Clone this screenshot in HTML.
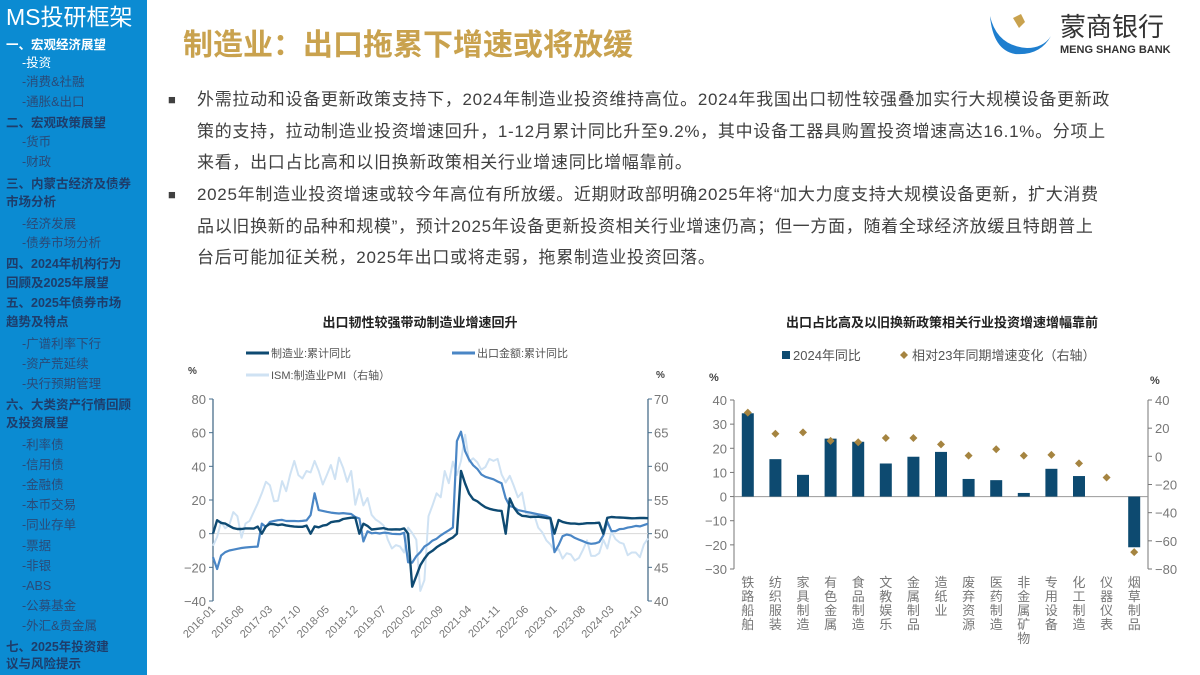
<!DOCTYPE html>
<html><head><meta charset="utf-8">
<style>
*{margin:0;padding:0;box-sizing:border-box}
body{width:1200px;height:675px;overflow:hidden;background:#fff;font-family:"Liberation Sans","Noto Sans CJK SC",sans-serif;position:relative}
#side{position:absolute;left:0;top:0;width:147px;height:675px;background:#0b8bd2}
#side div{position:absolute;white-space:nowrap;font-size:12.5px;line-height:14px;color:#1e3d6b}
#side .h{font-weight:bold;left:6px}
#side .s{left:22px;color:#2a4a78}
.body-text{position:absolute;left:197px;font-size:17px;letter-spacing:0.7px;color:#404040;white-space:nowrap;line-height:20px}
.bul{position:absolute;left:168px;font-size:13px;color:#404040}
</style></head><body>
<div id="side">
<div style="left:6px;top:3px;font-size:23px;line-height:28px;color:#fff">MS投研框架</div>
<div class="h" style="top:38px;color:#fff">一、宏观经济展望</div>
<div class="s" style="top:56px;color:#fff">-投资</div>
<div class="s" style="top:75px">-消费&amp;社融</div>
<div class="s" style="top:95px">-通胀&amp;出口</div>
<div class="h" style="top:116px">二、宏观政策展望</div>
<div class="s" style="top:135px">-货币</div>
<div class="s" style="top:155px">-财政</div>
<div class="h" style="top:177px">三、内蒙古经济及债券</div>
<div class="h" style="top:195px">市场分析</div>
<div class="s" style="top:217px">-经济发展</div>
<div class="s" style="top:236px">-债券市场分析</div>
<div class="h" style="top:257px">四、2024年机构行为</div>
<div class="h" style="top:276px">回顾及2025年展望</div>
<div class="h" style="top:296px">五、2025年债券市场</div>
<div class="h" style="top:315px">趋势及特点</div>
<div class="s" style="top:337px">-广谱利率下行</div>
<div class="s" style="top:357px">-资产荒延续</div>
<div class="s" style="top:377px">-央行预期管理</div>
<div class="h" style="top:398px">六、大类资产行情回顾</div>
<div class="h" style="top:416px">及投资展望</div>
<div class="s" style="top:438px">-利率债</div>
<div class="s" style="top:458px">-信用债</div>
<div class="s" style="top:478px">-金融债</div>
<div class="s" style="top:498px">-本币交易</div>
<div class="s" style="top:518px">-同业存单</div>
<div class="s" style="top:539px">-票据</div>
<div class="s" style="top:559px">-非银</div>
<div class="s" style="top:579px">-ABS</div>
<div class="s" style="top:599px">-公募基金</div>
<div class="s" style="top:619px">-外汇&amp;贵金属</div>
<div class="h" style="top:640px">七、2025年投资建</div>
<div class="h" style="top:657px">议与风险提示</div>
</div>

<div style="position:absolute;left:183px;top:20px;font-size:30px;font-weight:bold;color:#c9a24e;white-space:nowrap">制造业：出口拖累下增速或将放缓</div>

<svg style="position:absolute;left:985px;top:8px" width="215" height="50">
<path d="M5 8 Q12 38 42 40 Q58 40 66 28 Q55 48 30 46 Q8 42 5 8Z" fill="#1f7fcf"/>
<path d="M28 10 L36 6 L40 14 L34 20Z" fill="#c9a24e"/>
<text x="75" y="28" font-size="26" fill="#333" font-family="Noto Sans CJK SC,sans-serif">蒙商银行</text>
<text x="75" y="45" font-size="11" fill="#333" font-weight="bold" font-family="Liberation Sans,sans-serif">MENG SHANG BANK</text>
</svg>

<div class="bul" style="top:92px">■</div>
<div class="body-text" style="top:90px">外需拉动和设备更新政策支持下，2024年制造业投资维持高位。2024年我国出口韧性较强叠加实行大规模设备更新政</div>
<div class="body-text" style="top:122px">策的支持，拉动制造业投资增速回升，1-12月累计同比升至9.2%，其中设备工器具购置投资增速高达16.1%。分项上</div>
<div class="body-text" style="top:153px">来看，出口占比高和以旧换新政策相关行业增速同比增幅靠前。</div>
<div class="bul" style="top:187px">■</div>
<div class="body-text" style="top:185px">2025年制造业投资增速或较今年高位有所放缓。近期财政部明确2025年将“加大力度支持大规模设备更新，扩大消费</div>
<div class="body-text" style="top:217px">品以旧换新的品种和规模”，预计2025年设备更新投资相关行业增速仍高；但一方面，随着全球经济放缓且特朗普上</div>
<div class="body-text" style="top:248px">台后可能加征关税，2025年出口或将走弱，拖累制造业投资回落。</div>

<svg id="c1" style="position:absolute;left:0;top:0" width="1200" height="675"></svg>

<script>
// ---- left chart data ----
const months=[];for(let y=2016;y<=2024;y++)for(let m=1;m<=12;m++)months.push(y+'-'+String(m).padStart(2,'0'));
const mfgYoy=[0,8.0,6.4,6.0,4.6,3.3,2.8,2.8,3.1,3.1,3.0,4.2,
0,4.3,5.8,5.6,5.1,5.5,4.9,4.5,4.2,4.1,4.1,4.8,
0,4.3,3.8,4.8,5.2,6.8,7.3,7.5,8.7,9.1,9.5,9.5,
0,5.9,4.6,2.5,2.7,3.0,3.3,2.6,2.5,2.6,2.5,3.1,
0,-31.5,-25.2,-18.8,-14.8,-11.7,-10.2,-8.1,-6.5,-5.3,-3.5,-2.2,
0,37.3,29.8,23.8,20.4,19.2,17.3,15.7,14.8,14.2,13.7,13.5,
0,20.9,15.6,12.2,10.6,10.4,9.9,10.0,10.1,9.7,9.3,9.1,
0,8.1,7.0,6.4,6.0,6.0,5.7,5.9,6.2,6.2,6.3,6.5,
0,9.4,9.9,9.7,9.6,9.5,9.3,9.1,9.2,9.3,9.3,9.2];
const exportYoy=[-14,-21,-13,-11,-10,-9.5,-9,-8.5,-8.2,-8,-7.8,-7.7,
6,4,7,7.5,8,8.2,7.5,7.5,7.5,7.4,7.6,7.9,
11,24,14,13.5,13,12.5,12.2,12,12.2,11.9,11.7,9.9,
9,-4.6,1.4,0.2,0.5,0.1,0.6,0.4,-0.1,-0.2,-0.3,0.5,
-17,-17.2,-13.4,-11,-7.7,-6.2,-4.1,-3,-1,0.5,2,3.6,
55,60.6,49,44,40.6,38.5,35.2,33.8,33,32.3,31,29.9,
21,16.3,15.8,14,13.5,13,12.5,12,11.5,11,10.5,9.5,
-11,-6.8,-1.5,-0.5,-1,-2.5,-3.5,-4.5,-5.5,-6,-5.8,-5,
-1,7.1,1.5,1.5,2.7,2.9,3.6,4,4.6,4.3,5.1,5.9];
const ismPmi=[48.2,49.5,51.8,50.8,51.3,53.2,52.6,49.4,51.5,51.9,53.2,54.5,
56,57.7,57.2,54.8,54.9,57.8,56.3,58.8,60.8,58.7,58.2,59.3,
59.1,60.8,59.3,57.3,58.7,60.2,58.1,61.3,59.8,57.7,59.3,54.3,
56.6,54.2,55.3,52.8,52.1,51.7,51.2,49.1,47.8,48.3,48.1,47.2,
50.9,50.1,49.1,41.5,43.1,52.6,54.2,56,55.4,59.3,57.5,60.7,
58.7,60.8,64.7,60.7,61.2,60.6,59.5,59.9,61.1,60.8,61.1,58.8,
57.6,58.6,57.1,55.4,56.1,53,52.8,52.8,50.9,50.2,49,48.4,
47.4,47.7,46.3,47.1,46.9,46,46.4,47.6,49,46.7,46.7,47.1,
49.1,47.8,50.3,49.2,48.7,48.5,46.8,47.2,47.2,46.5,48.4,49.3];
const leftTicks=[80,60,40,20,0,-20,-40];
const rightTicks=[70,65,60,55,50,45,40];
// ---- right chart data ----
const industries=['铁路船舶','纺织服装','家具制造','有色金属','食品制造','文教娱乐','金属制品','造纸业','废弃资源','医药制造','非金属矿物','专用设备','化工制造','仪器仪表','烟草制品'];
const yoy2024=[34.5,15.5,9,24,22.7,13.7,16.5,18.5,7.3,6.8,1.5,11.5,8.5,0,-21];
const changeVs23=[31,16,17,11,10,13,13,8.5,0.5,5,0.5,1,-5,-15,-68];
const barTicks=[40,30,20,10,0,-10,-20,-30];
const diamondTicks=[40,20,0,-20,-40,-60,-80];

const svg=document.getElementById('c1');
const NS='http://www.w3.org/2000/svg';
function mk(tag,attrs,parent,text){const e=document.createElementNS(NS,tag);for(const k in attrs)e.setAttribute(k,attrs[k]);if(text!==undefined)e.textContent=text;(parent||svg).appendChild(e);return e;}
const F='Liberation Sans,Noto Sans CJK SC,sans-serif';

// ===== left chart =====
const L={x0:213,x1:648,y0:399,y1:601};
const lx=i=>L.x0+i*(L.x1-L.x0)/(months.length-1);
const ly=v=>L.y0+(80-v)*(L.y1-L.y0)/120;
const ry=v=>L.y0+(70-v)*(L.y1-L.y0)/30;
let t=mk('text',{x:420,y:327,'font-size':13,'font-weight':'bold','text-anchor':'middle',fill:'#222','font-family':F},svg,'出口韧性较强带动制造业增速回升');

function legendLine(x,y,color,label,name){const g=mk('g',{});
mk('line',{x1:x,y1:y,x2:x+23,y2:y,stroke:color,'stroke-width':3},g);mk('text',{x:x+25,y:y+4,'font-size':11,fill:'#555','font-family':F},g,label);}
legendLine(246,353,'#0e4a72','制造业:累计同比','legend-manufacturing');
legendLine(452,353,'#4a86c5','出口金额:累计同比','legend-export');
legendLine(246,375,'#cfe2f3','ISM:制造业PMI（右轴）','legend-ism-pmi');
t=mk('text',{x:188,y:374,'font-size':10,'font-weight':'bold',fill:'#444','font-family':F},svg,'%');
t=mk('text',{x:656,y:378,'font-size':10,'font-weight':'bold',fill:'#444','font-family':F},svg,'%');
mk('line',{x1:L.x0,y1:ly(80),x2:L.x0,y2:ly(-40),stroke:'#4a6f8c','stroke-width':1.3});
mk('line',{x1:L.x1,y1:ry(70),x2:L.x1,y2:ry(40),stroke:'#4a6f8c','stroke-width':1.3});
mk('line',{x1:L.x0,y1:ly(0),x2:L.x1,y2:ly(0),stroke:'#d8d8d8','stroke-width':1});
leftTicks.forEach(v=>{mk('line',{x1:L.x0-4,y1:ly(v),x2:L.x0,y2:ly(v),stroke:'#4a6f8c'});const e=mk('text',{x:L.x0-7,y:ly(v)+5,'font-size':13,'text-anchor':'end',fill:'#777','font-family':F},svg,v===0?'0':String(v).replace('-','−'));});
rightTicks.forEach(v=>{mk('line',{x1:L.x1,y1:ry(v),x2:L.x1+4,y2:ry(v),stroke:'#4a6f8c'});const e=mk('text',{x:L.x1+6,y:ry(v)+5,'font-size':13,fill:'#777','font-family':F},svg,String(v));});
for(let i=0;i<months.length;i+=7){const x=lx(i)+3;const e=mk('text',{x:x,y:610,'font-size':11,'text-anchor':'end',fill:'#777','font-family':F,transform:`rotate(-45 ${x} 610)`},svg,months[i]);}
function series(arr,fy,color,w,name){const d=arr.map((v,i)=>(i?'L':'M')+lx(i).toFixed(1)+' '+fy(v).toFixed(1)).join(' ');const p=mk('path',{d:d,fill:'none',stroke:color,'stroke-width':w,'stroke-linejoin':'round'});}
series(ismPmi,ry,'#cfe2f3',2,'ism-pmi-line');
series(exportYoy,ly,'#4a86c5',2.2,'export-yoy-line');
series(mfgYoy,ly,'#0e4a72',2.4,'manufacturing-yoy-line');

// ===== right chart =====
const R={x0:734,x1:1148,y0:400,y1:569};
const bw=(R.x1-R.x0)/industries.length;
const bx=i=>R.x0+(i+0.5)*bw;
const by=v=>R.y0+(40-v)*(R.y1-R.y0)/70;
const dy=v=>R.y0+(40-v)*(R.y1-R.y0)/120;
t=mk('text',{x:942,y:327,'font-size':13,'font-weight':'bold','text-anchor':'middle',fill:'#222','font-family':F},svg,'出口占比高及以旧换新政策相关行业投资增速增幅靠前');

let g=mk('g',{});
mk('rect',{x:782,y:351,width:8,height:8,fill:'#0d4a70'},g);mk('text',{x:793,y:360,'font-size':13,fill:'#555','font-family':F},g,'2024年同比');
g=mk('g',{});
mk('path',{d:'M904 351 L908 355 L904 359 L900 355Z',fill:'#a58440'},g);mk('text',{x:912,y:360,'font-size':13,fill:'#555','font-family':F},g,'相对23年同期增速变化（右轴）');
t=mk('text',{x:709,y:381,'font-size':11,'font-weight':'bold',fill:'#444','font-family':F},svg,'%');
t=mk('text',{x:1150,y:384,'font-size':11,'font-weight':'bold',fill:'#444','font-family':F},svg,'%');
mk('line',{x1:R.x0,y1:R.y0,x2:R.x0,y2:R.y1,stroke:'#777'});
mk('line',{x1:R.x1,y1:R.y0,x2:R.x1,y2:R.y1,stroke:'#777'});
mk('line',{x1:R.x0,y1:by(0),x2:R.x1,y2:by(0),stroke:'#999'});
barTicks.forEach(v=>{mk('line',{x1:R.x0-4,y1:by(v),x2:R.x0,y2:by(v),stroke:'#777'});const e=mk('text',{x:R.x0-7,y:by(v)+5,'font-size':13,'text-anchor':'end',fill:'#777','font-family':F},svg,String(v).replace('-','−'));});
diamondTicks.forEach(v=>{mk('line',{x1:R.x1,y1:dy(v),x2:R.x1+4,y2:dy(v),stroke:'#777'});const e=mk('text',{x:R.x1+7,y:dy(v)+5,'font-size':13,fill:'#777','font-family':F},svg,String(v).replace('-','−'));});
industries.forEach((n,i)=>{
 const v=yoy2024[i];
 if(v!==0){const r=mk('rect',{x:bx(i)-6,y:Math.min(by(v),by(0)),width:12,height:Math.abs(by(v)-by(0)),fill:'#0d4a70'});}
 const c=changeVs23[i],cy=dy(c),x=bx(i);
 const d=mk('path',{d:`M${x} ${cy-4} L${x+4} ${cy} L${x} ${cy+4} L${x-4} ${cy}Z`,fill:'#a58440'});
 const tx=mk('text',{'font-size':13,fill:'#777','font-family':F,'text-anchor':'middle'});
 [...n].forEach((ch,k)=>mk('tspan',{x:x,y:587+k*14},tx,ch));
});
</script>
</body></html>
